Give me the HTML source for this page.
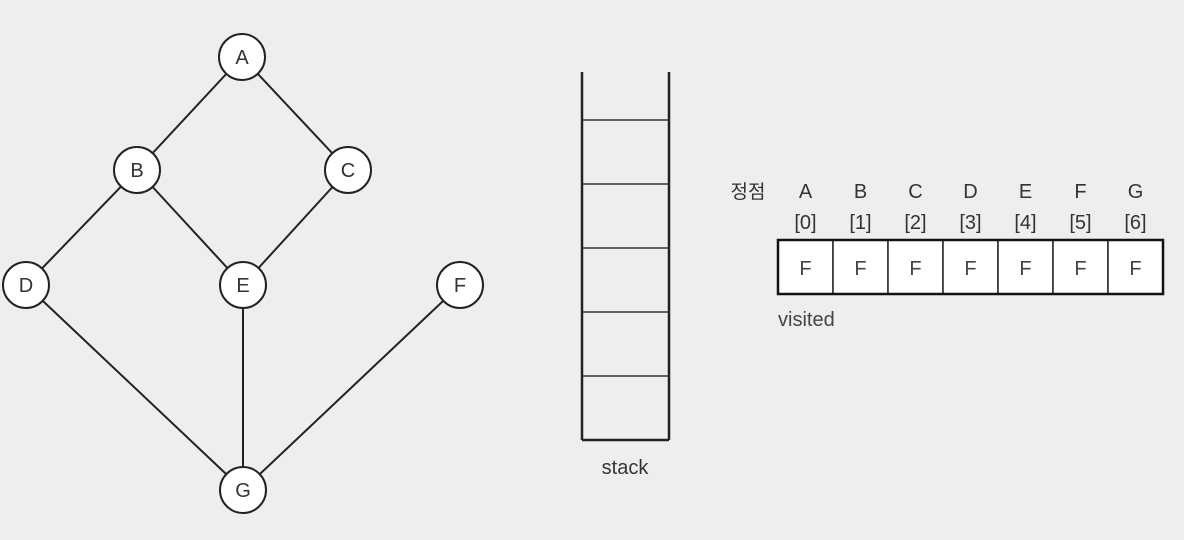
<!DOCTYPE html>
<html><head><meta charset="utf-8"><style>
html,body{margin:0;padding:0;background:#eeeeee;}
svg{display:block;font-family:"Liberation Sans","Noto Sans CJK KR",sans-serif;}
</style></head><body>
<svg id="s" width="1184" height="540" viewBox="0 0 1184 540">
<rect x="0" y="0" width="1184" height="540" fill="#eeeeee"/>
</svg>
<script>
const nodeNames=["A","B","C","D","E","F","G"];
const nodeX=[242,137,348,26,243,460,243];
const nodeY=[57,170,170,285,285,285,490];
const edges=[["A","B"],["A","C"],["B","D"],["B","E"],["C","E"],["D","G"],["E","G"],["F","G"]];
const indexLabels=["[0]","[1]","[2]","[3]","[4]","[5]","[6]"];
const visited=["F","F","F","F","F","F","F"];
const stackSlots=6;
const NS="http://www.w3.org/2000/svg";
const s=document.getElementById('s');
function mk(t,a,txt){const e=document.createElementNS(NS,t);for(const k in a)e.setAttribute(k,a[k]);if(txt!==undefined)e.textContent=txt;s.appendChild(e);return e;}
const R=23;
edges.forEach(([a,b])=>{const i=nodeNames.indexOf(a),j=nodeNames.indexOf(b);
 const l=mk('line',{x1:nodeX[i],y1:nodeY[i],x2:nodeX[j],y2:nodeY[j],stroke:'#222','stroke-width':2});
 
 });
nodeNames.forEach((n,i)=>{
 const c=mk('circle',{cx:nodeX[i],cy:nodeY[i],r:R,fill:'#fff',stroke:'#222','stroke-width':2});
 
 
 const t=mk('text',{x:nodeX[i],y:nodeY[i]+7,'text-anchor':'middle','font-size':20,fill:'#333'},n);
 
 });
// stack
const sx0=582,sx1=669,sTop=72,sBot=440;
[[sx0,sTop,sx0,sBot],[sx1,sTop,sx1,sBot],[sx0,sBot,sx1,sBot]].forEach((p,k)=>{
 const l=mk('line',{x1:p[0],y1:p[1],x2:p[2],y2:p[3],stroke:'#222','stroke-width':2.5});
 
 });
const slotH=64;
for(let k=0;k<stackSlots-1;k++){const y=sBot-slotH*(k+1);
 const l=mk('line',{x1:sx0,y1:y,x2:sx1,y2:y,stroke:'#333','stroke-width':1.5});
 
 }
const st=mk('text',{x:625,y:474,'text-anchor':'middle','font-size':20,fill:'#333'},'stack');


// array
const ax=778,ay=240,aw=385,ah=54,cw=aw/visited.length;
const h=mk('text',{x:748,y:198,'text-anchor':'middle','font-size':19,fill:'#333'},'정점');


visited.forEach((v,i)=>{const cx=ax+cw*i+cw/2;
 const r=mk('rect',{x:ax+cw*i,y:ay,width:cw,height:ah,fill:'#fff',stroke:'#222','stroke-width':1.5});
 
 
 const t=mk('text',{x:cx,y:ay+35,'text-anchor':'middle','font-size':20,fill:'#444'},v);
 
 
 const n=mk('text',{x:cx,y:198,'text-anchor':'middle','font-size':20,fill:'#333'},nodeNames[i]);
 
 
 const b=mk('text',{x:cx,y:229,'text-anchor':'middle','font-size':20,fill:'#333'},indexLabels[i]);
 
 });
const ob=mk('rect',{x:ax,y:ay,width:aw,height:ah,fill:'none',stroke:'#111','stroke-width':2.5});


const vl=mk('text',{x:778,y:326,'font-size':20,fill:'#444'},'visited');


</script>
</body></html>
